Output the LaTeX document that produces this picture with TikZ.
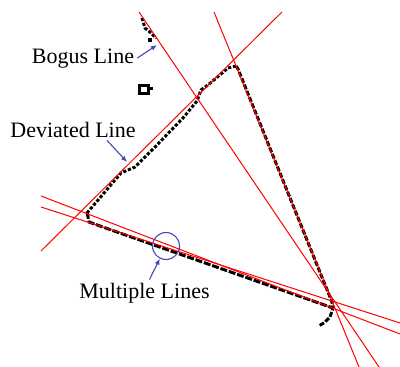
\documentclass[tikz,border=0pt]{standalone}
\usepackage{fontspec}
\setmainfont{Liberation Serif}
\usepackage{xcolor}
\usetikzlibrary{arrows.meta}
\definecolor{pointblue}{RGB}{70,70,185}

\begin{document}
\begin{tikzpicture}[x=1pt, y=-1pt, >=Latex, font=\fontsize{22}{26}\selectfont,
  houghline/.style={red, line width=1pt},
  pixels/.style={black, line width=3pt, dash pattern=on 3.2pt off 1.8pt},
  pointer/.style={->, pointblue, line width=1.1pt, >={Latex[length=6pt,width=5pt]}},
  ring/.style={draw=pointblue, circle, line width=1.1pt, minimum size=27pt, inner sep=0pt},
  lbl/.style={anchor=base, inner sep=3pt}]
\useasboundingbox (0,0) rectangle (400,367);
% edge pixels
\draw[pixels] (87,213) -- (121,173) -- (135,167) -- (155,147) -- (183,118) -- (197,101)
  -- (201,90) -- (208,85) -- (228,68) -- (236,66);
\draw[pixels, dash pattern=on 5pt off 1.8pt] (236,66) -- (238,69) -- (332,302) -- (333,308) -- (330,317) -- (325,322) -- (319,326);
\draw[pixels, dash pattern=on 7pt off 1.8pt] (87,212) -- (89,222) -- (100,226) -- (333,308);
\draw[pixels] (142,18) -- (145,28) -- (151,33) -- (156,38);
\fill (148,38) rectangle (152,42);
\draw[line width=3pt] (139,85) rectangle (148,93) (148,88) -- (153,88);
% fitted lines
\draw[houghline] (214,12) -- (359,367);
\draw[houghline] (139,12) -- (379,367);
\draw[houghline] (41,251) -- (282,12);
\draw[houghline] (41,196) -- (400,334);
\draw[houghline] (41,207) -- (400,323);
% labels
\node[lbl] (boguslabel) at (83,63) {Bogus Line};
\node[lbl] (devlabel) at (73,137) {Deviated Line};
\node[lbl] (multilabel) at (144.5,298) {Multiple Lines};
\node[ring] (multi) at (166,246) {};
\coordinate (bogustip) at (157,45);
\coordinate (devtip) at (127,162);
\draw[pointer] (boguslabel.east) -- (bogustip);
\draw[pointer] ([xshift=34pt]devlabel.south) -- (devtip);
\draw[pointer] ([xshift=5pt]multilabel.north) -- (multi);
\end{tikzpicture}
\end{document}
